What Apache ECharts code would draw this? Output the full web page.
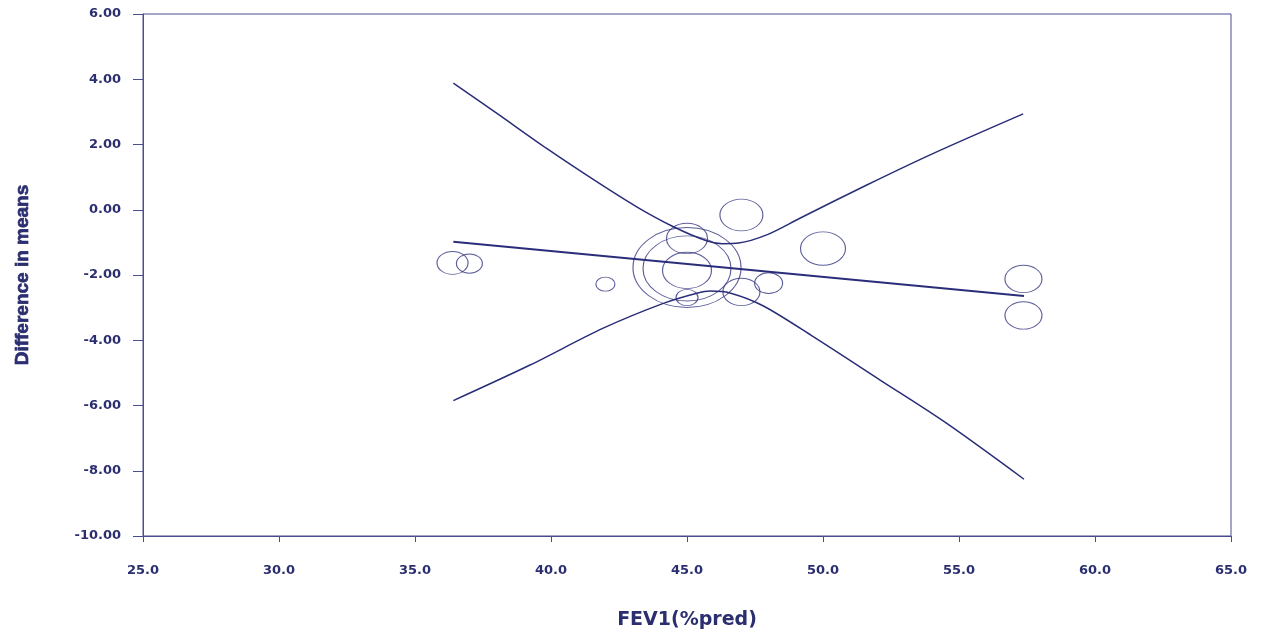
<!DOCTYPE html>
<html>
<head>
<meta charset="utf-8">
<script src="https://cdn.jsdelivr.net/npm/echarts@6/dist/echarts.min.js"></script>
<style>
  html, body { margin: 0; padding: 0; background: #ffffff; }
  #chart { width: 1262px; height: 635px; }
</style>
</head>
<body>
<div id="chart"></div>
<script>
// ---- Data ----
// Studies (bubbles): FEV1 %pred, difference in means, relative weight
const studyFEV1 = [36.38, 37.0, 42.0, 45.0, 45.0, 45.0, 45.0, 45.0, 47.0, 47.0, 48.0, 50.0, 57.37, 57.37];
const studyDiff = [-1.63, -1.65, -2.28, -1.77, -1.80, -0.88, -1.86, -2.69, -0.16, -2.52, -2.25, -1.19, -2.12, -3.24];
const studyWeight = [31, 26, 19, 108, 88, 41, 49, 22, 43, 37, 28, 45, 37, 37];

// Regression line (end points)
const regX = [36.41, 57.39];
const regY = [-0.98, -2.64];

// Upper confidence band
const upperX = [36.41, 38.00, 39.84, 41.68, 43.15, 44.50, 45.72, 46.30, 46.90, 47.93, 49.15, 51.61, 54.06, 57.36];
const upperY = [3.88, 2.96, 1.88, 0.86, 0.09, -0.52, -0.95, -1.04, -1.02, -0.77, -0.26, 0.76, 1.73, 2.94];

// Lower confidence band
const lowerX = [36.41, 39.23, 41.92, 44.13, 45.36, 45.85, 46.58, 47.81, 49.64, 52.10, 54.55, 57.39];
const lowerY = [-5.85, -4.76, -3.63, -2.87, -2.56, -2.49, -2.55, -2.95, -3.89, -5.22, -6.55, -8.26];

// Axis settings
const xMin = 25, xMax = 65, xStep = 5;
const yMin = -10, yMax = 6, yStep = 2;
const xTitle = 'FEV1(%pred)';
const yTitle = 'Difference in means';

// ---- Chart ----
const navy = '#2a2d78';
const textColor = '#2b2e6f';
const axisColor = '#4a4d90';
const labelFont = "'DejaVu Sans', sans-serif";

const zip = (xs, ys) => xs.map((x, i) => [x, ys[i]]);
const bubbles = studyFEV1.map((x, i) => [x, studyDiff[i], studyWeight[i]]);

const chart = echarts.init(document.getElementById('chart'));
chart.setOption({
  animation: false,
  backgroundColor: '#ffffff',
  grid: {
    left: 143, right: 31, top: 14, bottom: 97,
    show: true, borderColor: axisColor, borderWidth: 1
  },
  xAxis: {
    type: 'value', min: xMin, max: xMax, interval: xStep,
    name: xTitle, nameLocation: 'middle', nameGap: 75,
    nameTextStyle: { color: textColor, fontFamily: labelFont, fontWeight: 'bold', fontSize: 19 },
    axisLine: { show: true, onZero: false, lineStyle: { color: axisColor, width: 1 } },
    axisTick: { show: true, inside: false, length: 6, lineStyle: { color: axisColor } },
    axisLabel: {
      margin: 28, color: textColor, fontFamily: labelFont, fontWeight: 'bold', fontSize: 13,
      formatter: v => v.toFixed(1)
    },
    splitLine: { show: false }
  },
  yAxis: {
    type: 'value', min: yMin, max: yMax, interval: yStep,
    name: yTitle, nameLocation: 'middle', nameRotate: 90, nameGap: 111,
    nameTextStyle: {
      color: textColor, fontFamily: "'Liberation Sans', Arial, sans-serif",
      fontWeight: 'bold', fontSize: 19,
      textBorderColor: textColor, textBorderWidth: 0.7
    },
    axisLine: { show: true, onZero: false, lineStyle: { color: axisColor, width: 1 } },
    axisTick: { show: true, inside: false, length: 10, lineStyle: { color: axisColor } },
    axisLabel: {
      margin: 22, color: textColor, fontFamily: labelFont, fontWeight: 'bold', fontSize: 13,
      formatter: v => v.toFixed(2)
    },
    splitLine: { show: false }
  },
  series: [
    {
      type: 'scatter',
      data: bubbles,
      symbol: 'circle',
      symbolSize: d => [d[2], d[2] * 0.74],
      itemStyle: { color: 'rgba(0,0,0,0)', borderColor: '#33367f', borderWidth: 1 },
      silent: true,
      z: 2
    },
    {
      type: 'line',
      data: zip(regX, regY),
      showSymbol: false,
      lineStyle: { color: navy, width: 2 },
      silent: true,
      z: 3
    },
    {
      type: 'line',
      data: zip(upperX, upperY),
      smooth: 0.3,
      showSymbol: false,
      lineStyle: { color: navy, width: 1.5 },
      silent: true,
      z: 3
    },
    {
      type: 'line',
      data: zip(lowerX, lowerY),
      smooth: 0.3,
      showSymbol: false,
      lineStyle: { color: navy, width: 1.5 },
      silent: true,
      z: 3
    }
  ]
});
</script>
</body>
</html>
